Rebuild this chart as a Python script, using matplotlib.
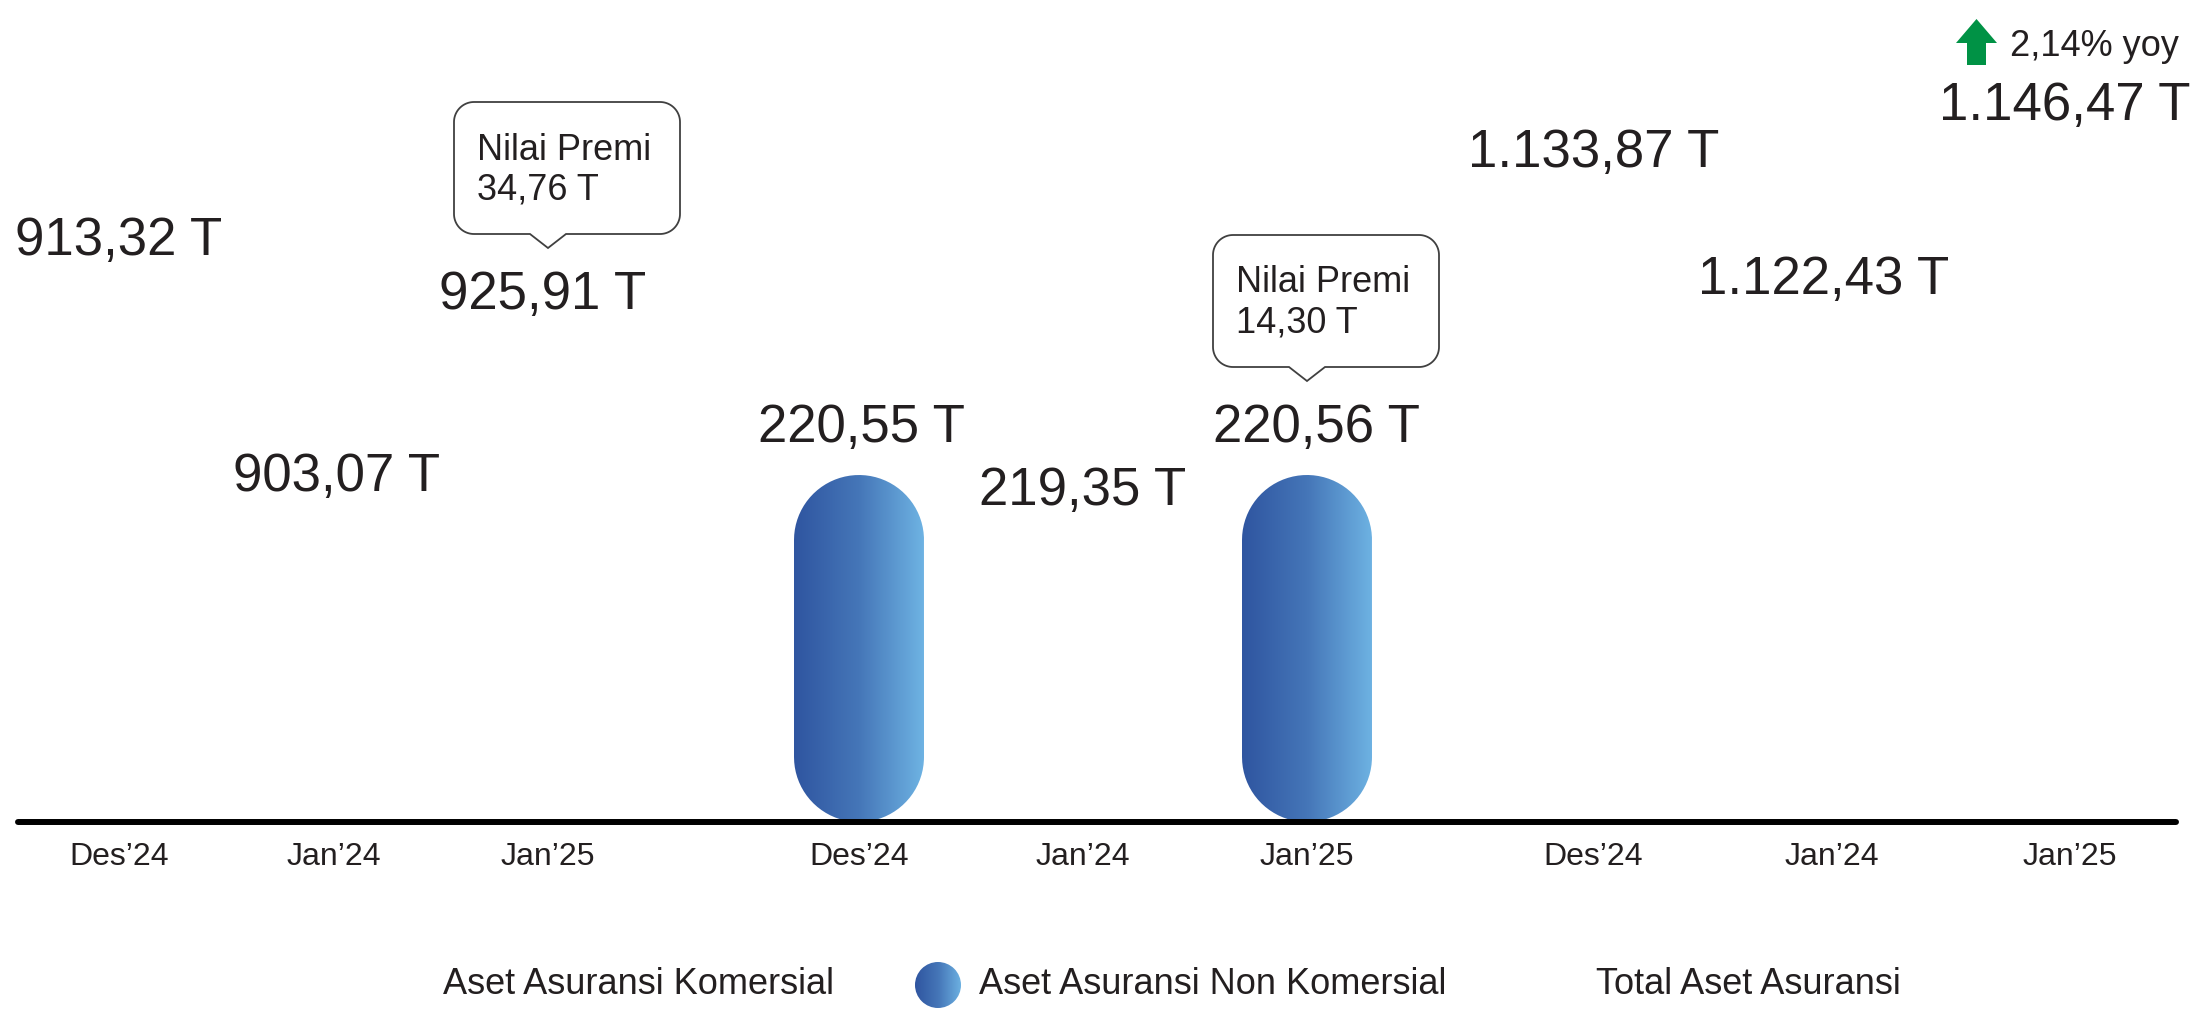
import matplotlib
matplotlib.use("Agg")
import matplotlib.pyplot as plt
import numpy as np
from matplotlib.colors import LinearSegmentedColormap
from matplotlib.patches import PathPatch, Polygon, Ellipse
from matplotlib.path import Path

plt.rcParams["font.family"] = ["Liberation Sans", "DejaVu Sans"]

# data
periods = ["Des’24", "Jan’24", "Jan’25"]
series = ["Aset Asuransi Komersial", "Aset Asuransi Non Komersial", "Total Aset Asuransi"]
komersial = [913.32, 903.07, 925.91]
non_komersial = [220.55, 219.35, 220.56]
total = [1133.87, 1122.43, 1146.47]
premi = [34.76, 14.30]          # Jan'25 komersial / non komersial
yoy_total = 2.14
# only these bars are visible in the reference
visible = [False, False, False, True, False, True, False, False, False]

# layout (pixels, y measured from top)
W, H = 2197, 1026
BASE_PX = 822
PX_PER_T = 1.5733
X0, UNIT = 105.8, 226.2
GROUP_START = [119, 859, 1593]
GROUP_STEP = [214.5, 224, 238.5]
LABEL_Y = [241, 477, 295, 428, 491, 428, 153, 280, 106]
LABEL_DX = [0, 3, -5, 2, 0, 9, 1, -8, -5]
BAR_W = 130
INK = "#231f20"
cmap = LinearSegmentedColormap.from_list("blu", ["#2f55a0", "#4576b8", "#6eb3e3"])


def fmt(v):
    s = f"{v:,.2f}"
    return s.replace(",", "X").replace(".", ",").replace("X", ".")


def px(xp, yp):
    return ((xp - X0) / UNIT, (BASE_PX - yp) / PX_PER_T)


def to_px(x):
    return X0 + UNIT * x


fig = plt.figure(figsize=(W / 100, H / 100), dpi=100)
ax = fig.add_axes([0, 0, 1, 1])

slot_px = [s + k * d for s, d in zip(GROUP_START, GROUP_STEP) for k in range(3)]
xpos = [(p - X0) / UNIT for p in slot_px]
values = komersial + non_komersial + total
labels = periods * 3


def gradient_capsule(xc, value, w_px):
    rx = w_px / 2 / UNIT
    ry = w_px / 2 / PX_PER_T
    t1 = np.linspace(np.pi, 2 * np.pi, 80)
    t2 = np.linspace(0, np.pi, 80)
    bottom = np.column_stack([xc + rx * np.cos(t1), ry + ry * np.sin(t1)])
    top = np.column_stack([xc + rx * np.cos(t2), value - ry + ry * np.sin(t2)])
    verts = np.vstack([bottom, top, bottom[:1]])
    patch = PathPatch(Path(verts), facecolor="none", edgecolor="none", transform=ax.transData)
    ax.add_patch(patch)
    im = ax.imshow(np.linspace(0, 1, 256).reshape(1, -1), extent=[xc - rx, xc + rx, 0, value],
                   aspect="auto", cmap=cmap, origin="lower", interpolation="bilinear", zorder=2)
    im.set_clip_path(patch)


for x, v, show in zip(xpos, values, visible):
    if show:
        gradient_capsule(x, v, BAR_W)

# baseline
ax.axhline(0, xmin=18 / W, xmax=2176 / W, color="black", lw=4.3, solid_capstyle="round", zorder=3)

# tick labels
for x, lab in zip(xpos, labels):
    ax.text(x, px(0, 857)[1], lab, ha="center", va="center", fontsize=23, color=INK)

# value labels
for x, v, ly, dx in zip(xpos, values, LABEL_Y, LABEL_DX):
    ax.text(x + dx / UNIT, px(0, ly)[1], f"{fmt(v)} T", ha="center", va="center",
            fontsize=38, color=INK)


def bubble(tip_x, tip_y, text_lines):
    left, w, h, r = tip_x - 94, 226, 132, 20
    right = left + w
    bottom = tip_y - 14
    top = bottom - h

    def arc(cx, cy, a0, a1):
        a = np.radians(np.linspace(a0, a1, 20))
        return list(zip(cx + r * np.cos(a), cy + r * np.sin(a)))

    pts = [(left + r, top), (right - r, top)]
    pts += arc(right - r, top + r, -90, 0)
    pts += [(right, bottom - r)]
    pts += arc(right - r, bottom - r, 0, 90)
    pts += [(tip_x + 18, bottom), (tip_x, tip_y), (tip_x - 18, bottom), (left + r, bottom)]
    pts += arc(left + r, bottom - r, 90, 180)
    pts += [(left, top + r)]
    pts += arc(left + r, top + r, 180, 270)
    data_pts = [px(a, b) for a, b in pts]
    ax.add_patch(Polygon(data_pts, closed=True, facecolor="white", edgecolor="#404040",
                         lw=1.3, zorder=4))
    for k, line in enumerate(text_lines):
        ax.text(*px(left + 23, top + 48 + 40 * k), line, ha="left", va="center",
                fontsize=26, color=INK, zorder=5)


for j, p in zip([2, 5], premi):
    bubble(to_px(xpos[j]), LABEL_Y[j] - 47, ["Nilai Premi", f"{fmt(p)} T"])

# yoy indicator
arrow_px = [(1956, 43), (1976.5, 19), (1997, 43), (1986, 43), (1986, 65), (1967, 65), (1967, 43)]
ax.add_patch(Polygon([px(a, b) for a, b in arrow_px], closed=True, facecolor="#009245",
                     edgecolor="none", zorder=4))
ax.text(*px(2010, 47), f"{fmt(yoy_total)}% yoy", ha="left", va="center", fontsize=26, color=INK)

# legend
ax.text(*px(443, 984), series[0], ha="left", va="center", fontsize=26, color=INK)
ax.text(*px(979, 984), series[1], ha="left", va="center", fontsize=26, color=INK)
ax.text(*px(1596, 984), series[2], ha="left", va="center", fontsize=26, color=INK)
cx, cy = px(938, 985)
ell = Ellipse((cx, cy), 46 / UNIT, 46 / PX_PER_T, facecolor="none", edgecolor="none",
              transform=ax.transData)
ax.add_patch(ell)
leg = ax.imshow(np.linspace(0, 1, 256).reshape(1, -1),
                extent=[cx - 23 / UNIT, cx + 23 / UNIT, cy - 23 / PX_PER_T, cy + 23 / PX_PER_T],
                aspect="auto", cmap=cmap, origin="lower", interpolation="bilinear", zorder=2)
leg.set_clip_path(ell)

ax.set_xlim(-X0 / UNIT, (W - X0) / UNIT)
ax.set_ylim(-(H - BASE_PX) / PX_PER_T, BASE_PX / PX_PER_T)
ax.axis("off")

fig.savefig("out.png", dpi=100, facecolor="white")
